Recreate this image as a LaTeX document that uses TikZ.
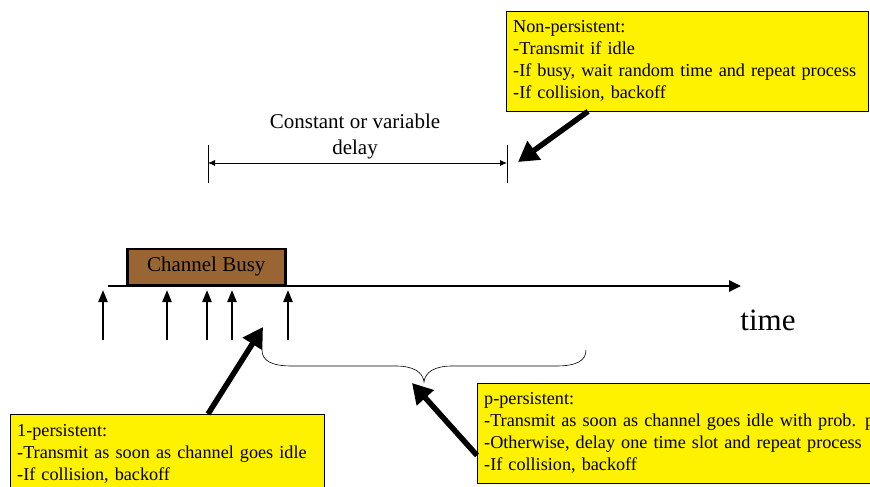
\documentclass[tikz,border=0pt]{standalone}
\usepackage{fontspec}
\setmainfont{Liberation Serif}
\usetikzlibrary{arrows.meta,positioning}
\definecolor{busybrown}{RGB}{153,102,51}

\begin{document}
\begin{tikzpicture}[
  x=1pt, y=-1pt,
  note/.style={draw, fill=yellow, anchor=north west, align=left, inner xsep=7pt, inner ysep=7pt, font=\fontsize{18.2}{22}\selectfont},
  busy/.style={draw, line width=2.5pt, fill=busybrown, font=\fontsize{21}{24}\selectfont},
  bigarr/.style={line width=5.5pt, -{Triangle[length=20pt,width=22pt]}},
  attempt/.style={line width=2.2pt, -{Triangle[length=12pt,width=9pt]}},
  dim/.style={{Latex[length=7pt,width=6pt]}-{Latex[length=7pt,width=6pt]}, line width=0.8pt},
  axis/.style={line width=2.8pt, -{Triangle[length=12pt,width=11pt]}}
]
  \clip (0,0) rectangle (870,487);

  % strategy boxes
  \node[note, text width=348pt, minimum height=100pt] (np) at (506,11)
    {Non-persistent:\\-Transmit if idle\\-If busy, wait random time and repeat process\\-If collision, backoff};
  \node[note, text width=300pt, minimum height=80pt] (op) at (10,414)
    {1-persistent:\\-Transmit as soon as channel goes idle\\-If collision, backoff};
  \node[note, text width=420pt, minimum height=100pt] (pp) at (477,383)
    {p-persistent:\\-Transmit as soon as channel goes idle with prob. p\\-Otherwise, delay one time slot and repeat process\\-If collision, backoff};

  % delay
  \coordinate (dl) at (208,163);
  \coordinate (dr) at (507,163);
  \draw[line width=0.8pt] ([yshift=18pt]dl) -- ([yshift=-20pt]dl);
  \draw[line width=0.8pt] ([yshift=18pt]dr) -- ([yshift=-20pt]dr);
  \draw[dim] (dl) -- (dr);
  \node[align=center, font=\fontsize{21}{26}\selectfont] (delay) at (355,136) {Constant or variable\\delay};

  % time axis
  \coordinate (t0) at (108,286);
  \coordinate (t1) at (741,286);
  \node[busy, minimum width=158pt, minimum height=36pt, anchor=south west] (cb) at (126,286) {Channel Busy};
  \draw[axis] (t0) -- (t1);
  \node[font=\fontsize{31}{34}\selectfont] (time) at (768,320) {time};
  \foreach \x in {103,167,207,232,288}
    \draw[attempt] (\x,340) -- (\x,290);

  % brace
  \draw[line width=0.6pt] (262,350) .. controls (262,361) and (272,366) .. (292,366) -- (396,366)
    .. controls (413,366) and (423,372) .. (424,382)
    .. controls (425,372) and (435,366) .. (452,366) -- (556,366)
    .. controls (576,366) and (586,361) .. (586,350);

  % pointers
  \coordinate (npTip) at (518,162);
  \coordinate (opTip) at (263,327);
  \coordinate (ppTip) at (412,383);
  \draw[bigarr] ([xshift=82pt]np.south west) -- (npTip);
  \draw[bigarr] ([xshift=198pt]op.north west) -- (opTip);
  \draw[bigarr] ([yshift=28pt]pp.south west) -- (ppTip);
\end{tikzpicture}
\end{document}
